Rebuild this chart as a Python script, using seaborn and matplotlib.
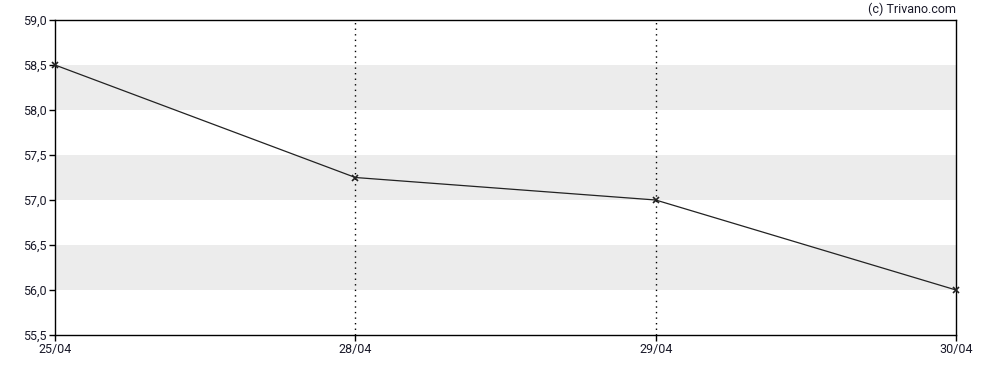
import pandas as pd
import matplotlib
matplotlib.use("Agg")
import matplotlib.pyplot as plt
import seaborn as sns

# data
dates = ["25/04", "28/04", "29/04", "30/04"]
prices = [58.5, 57.25, 57.0, 56.0]
y_ticks = [55.5, 56.0, 56.5, 57.0, 57.5, 58.0, 58.5, 59.0]
bands = [(56.0, 56.5), (57.0, 57.5), (58.0, 58.5)]

df = pd.DataFrame({"pos": range(len(dates)), "price": prices})

sns.set_style("white")
plt.rcParams["font.family"] = ["Roboto", "DejaVu Sans"]

fig = plt.figure(figsize=(9.88, 3.70), dpi=100)
ax = fig.add_axes([55 / 988, 1 - 335 / 370, (956 - 55) / 988, (335 - 20) / 370])

## grey bands
for lo, hi in bands:
    ax.axhspan(lo, hi, color="#ececec", zorder=0, lw=0)

## dotted verticals at the inner dates
for p in range(1, len(dates) - 1):
    ax.axvline(p, color="black", ls=(0, (1, 3)), lw=1, zorder=1)

sns.lineplot(data=df, x="pos", y="price", ax=ax, color="#222222", lw=0.9,
             marker="x", markersize=4, markeredgewidth=1.2, markeredgecolor="#222222",
             zorder=3, clip_on=False)

ax.set_xlim(0, len(dates) - 1)
ax.set_ylim(55.5, 59.0)
ax.set_xticks(range(len(dates)))
ax.set_xticklabels(dates)
ax.set_yticks(y_ticks)
ax.set_yticklabels([f"{v:.1f}".replace(".", ",") for v in y_ticks])
ax.set_xlabel("")
ax.set_ylabel("")

for s in ax.spines.values():
    s.set_color("black")
    s.set_linewidth(1)

ax.tick_params(axis="both", direction="out", length=4, width=1, color="black",
               labelsize=9, labelcolor="#1a1a2a", pad=2, bottom=True, left=True)

fig.text(956 / 988, 1 - 9 / 370, "(c) Trivano.com", ha="right", va="center",
         fontsize=9, color="#1a1a2a")

fig.savefig("out.png", dpi=100)
